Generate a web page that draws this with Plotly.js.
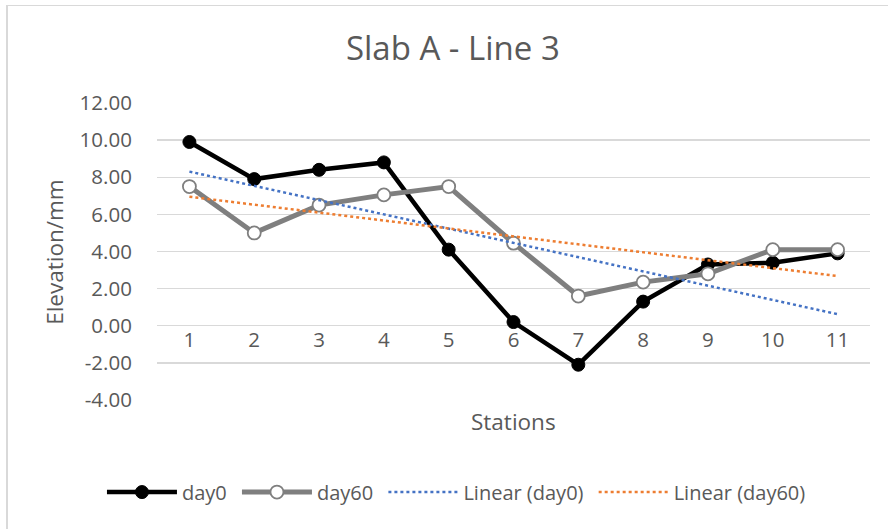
<!DOCTYPE html>
<html>
<head>
<meta charset="utf-8">
<script src="https://cdn.plot.ly/plotly-3.0.1.min.js"></script>
<style>
html,body{margin:0;padding:0;background:#fff;}
#chart{position:absolute;left:0;top:0;width:888px;height:529px;}
#frame{position:absolute;left:6px;top:5px;width:882px;height:524px;box-sizing:border-box;border-left:2px solid #d9d9d9;border-top:1px solid #d9d9d9;pointer-events:none;}
</style>
</head>
<body>
<div id="chart"></div>
<div id="frame"></div>
<script>
const stations = [1,2,3,4,5,6,7,8,9,10,11];
const day0 = [9.9,7.9,8.4,8.8,4.1,0.2,-2.1,1.3,3.3,3.4,3.9];
const day60 = [7.5,5.0,6.5,7.05,7.5,4.45,1.6,2.35,2.8,4.1,4.1];
const yTicks = [-4,-2,0,2,4,6,8,10,12];
const seriesNames = ['day0','day60','Linear (day0)','Linear (day60)'];

function linearFit(xs, ys){
  const n = xs.length;
  const mx = xs.reduce((a,b)=>a+b,0)/n;
  const my = ys.reduce((a,b)=>a+b,0)/n;
  let sxy=0, sxx=0;
  for(let i=0;i<n;i++){sxy+=(xs[i]-mx)*(ys[i]-my);sxx+=(xs[i]-mx)*(xs[i]-mx);}
  const m = sxy/sxx, b = my - m*mx;
  return xs.map(x=>m*x+b);
}

const FONT = '"Open Sans", Lato, sans-serif';
const C = '#595959';
const pad = '\u00a0';
const traces = [
  {x:stations,y:day0,name:seriesNames[0]+pad,type:'scatter',mode:'lines+markers',
   line:{color:'#000000',width:4.5},marker:{color:'#000000',size:13,line:{color:'#000000',width:1}}},
  {x:stations,y:day60,name:seriesNames[1]+pad,type:'scatter',mode:'lines+markers',
   line:{color:'#7f7f7f',width:5},marker:{color:'#ffffff',size:13,line:{color:'#7f7f7f',width:1.8}}},
  {x:stations,y:linearFit(stations,day0),name:seriesNames[2]+pad,type:'scatter',mode:'lines',
   line:{color:'#4472c4',width:2.5,dash:'dot'}},
  {x:stations,y:linearFit(stations,day60),name:seriesNames[3],type:'scatter',mode:'lines',
   line:{color:'#ed7d31',width:2.5,dash:'dot'}}
];

const layout = {
  width:888,height:529,
  margin:{l:157,r:18,t:103,b:129},
  paper_bgcolor:'rgba(0,0,0,0)',plot_bgcolor:'rgba(0,0,0,0)',
  font:{family:FONT,color:C,size:20},
  title:{text:'Slab A - Line 3',font:{size:33,color:C,family:FONT},x:0.51,xanchor:'center',y:0.909,yanchor:'middle'},
  xaxis:{range:[0.5,11.5],tickvals:stations,ticktext:stations.map(String),anchor:'free',position:0.25,
    showgrid:false,zeroline:false,showline:false,ticks:'',tickfont:{size:20.5,color:C}},
  yaxis:{range:[-4,12],tickvals:yTicks,ticktext:yTicks.map(v=>v.toFixed(2)),showgrid:true,gridcolor:'#d9d9d9',gridwidth:1.3,
    zeroline:false,showline:false,ticks:'outside',ticklen:20,tickcolor:'rgba(0,0,0,0)',tickfont:{size:20.5,color:C}},
  showlegend:true,
  legend:{orientation:'h',x:0.42,xanchor:'center',y:-0.31,yanchor:'middle',font:{size:20,color:C},itemwidth:70,traceorder:'normal'},
  annotations:[
    {text:'Stations',xref:'paper',yref:'paper',x:0.5,y:-0.074,xanchor:'center',yanchor:'middle',showarrow:false,font:{size:22.5,color:C}},
    {text:'Elevation/mm',xref:'paper',yref:'paper',x:-0.144,y:0.5,textangle:-90,xanchor:'center',yanchor:'middle',showarrow:false,font:{size:22.5,color:C}}
  ]
};
Plotly.newPlot('chart',traces,layout,{displayModeBar:false,staticPlot:true});
</script>
</body>
</html>
